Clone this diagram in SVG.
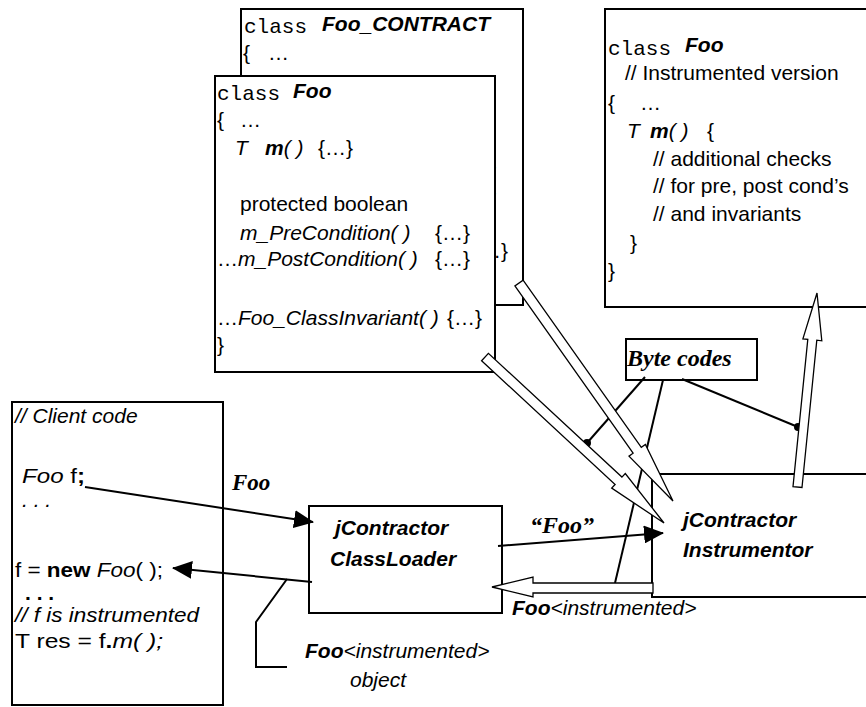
<svg xmlns="http://www.w3.org/2000/svg" width="866" height="707" viewBox="0 0 866 707">
<style>
.box{fill:#fff;stroke:#000;stroke-width:2}
.ln{fill:none;stroke:#000;stroke-width:2}
.ha{fill:#fff;stroke:#000;stroke-width:1.3;stroke-linejoin:miter}
text{font-family:"Liberation Sans",Arial,sans-serif;font-size:21px;fill:#000}
.i{font-style:italic}
.b{font-weight:bold}
.bi{font-weight:bold;font-style:italic}
.mono{font-family:"Liberation Mono","Courier New",monospace;font-size:21px}
.tm{font-family:"Liberation Serif","Times New Roman",serif;font-weight:bold;font-style:italic;font-size:24px}
</style>
<defs>
<marker id="ah" viewBox="0 0 20 18" refX="19" refY="9" markerWidth="20" markerHeight="18" orient="auto" markerUnits="userSpaceOnUse">
<path d="M0,0 L20,9 L0,18 Z" fill="#000"/>
</marker>
</defs>

<g id="foo-contract">
<rect class="box" x="241" y="9" width="282" height="296"/>
<text class="mono" x="244" y="33">class</text>
<text class="bi" x="322" y="31">Foo_CONTRACT</text>
<text x="243" y="60">{</text><text x="268" y="60">…</text>
<text x="461" y="173">{…}</text>
<text x="461" y="199">{…}</text>
<text x="473" y="258">{…}</text>
</g>

<g id="foo-class">
<rect class="box" x="215" y="76" width="280" height="296"/>
<text class="mono" x="217" y="100">class</text>
<text class="bi" x="293" y="98">Foo</text>
<text x="217" y="127">{</text><text x="240" y="127">…</text>
<text class="i" x="235" y="155">T</text>
<text x="265" y="155"><tspan class="bi">m</tspan><tspan class="i">( )</tspan></text>
<text x="318" y="155">{…}</text>
<text x="240" y="211">protected boolean</text>
<text class="i" x="240" y="240">m_PreCondition( )</text><text x="435" y="240">{…}</text>
<text x="217" y="266">…<tspan class="i">m_PostCondition( )</tspan></text><text x="435" y="266">{…}</text>
<text x="217" y="325">…<tspan class="i">Foo_ClassInvariant( )</tspan></text><text x="447" y="325">{…}</text>
<text x="217" y="352">}</text>
</g>

<g id="foo-instrumented">
<rect class="box" x="605" y="9" width="290" height="298"/>
<text class="mono" x="608" y="55">class</text>
<text class="bi" x="685" y="52">Foo</text>
<text x="625" y="80">// Instrumented version</text>
<text x="608" y="110">{</text><text x="640" y="110">…</text>
<text class="i" x="627" y="138">T</text>
<text x="650" y="138"><tspan class="bi">m</tspan><tspan class="i">( )</tspan></text>
<text x="707" y="138">{</text>
<text x="653" y="166">// additional checks</text>
<text x="653" y="193">// for pre, post cond’s</text>
<text x="653" y="221">// and invariants</text>
<text x="630" y="250">}</text>
<text x="608" y="278">}</text>
</g>

<g id="client-code">
<rect class="box" x="12" y="402" width="211" height="303"/>
<text class="i" x="15" y="423">// Client code</text>
<text x="22" y="483" textLength="63" lengthAdjust="spacingAndGlyphs"><tspan class="i">Foo</tspan> f<tspan class="b">;</tspan></text>
<text class="i" x="22" y="507">. . .</text>
<text x="15" y="577" textLength="148" lengthAdjust="spacingAndGlyphs">f = <tspan class="b">new</tspan> <tspan class="i">Foo</tspan>( );</text>
<text class="b" x="25" y="600">. . .</text>
<text class="i" x="15" y="622" textLength="184" lengthAdjust="spacingAndGlyphs">// f is instrumented</text>
<text x="15" y="648" textLength="148" lengthAdjust="spacingAndGlyphs">T res = f<tspan class="b">.</tspan><tspan class="i">m( );</tspan></text>
</g>

<g id="classloader">
<rect class="box" x="309" y="506" width="193" height="107"/>
<text class="bi" x="335" y="535">jContractor</text>
<text class="bi" x="330" y="566">ClassLoader</text>
</g>

<g id="instrumentor">
<rect class="box" x="652" y="474" width="240" height="123"/>
<text class="bi" x="683" y="527">jContractor</text>
<text class="bi" x="683" y="557">Instrumentor</text>
</g>

<g id="bytecodes">
<rect class="box" x="626" y="339" width="131" height="41"/>
<text class="tm" x="627" y="366">Byte codes</text>
</g>

<g id="labels">
<text class="tm" x="232" y="490" style="font-size:23px">Foo</text>
<text class="tm" x="530" y="533">“Foo”</text>
<text x="512" y="615"><tspan class="bi">Foo</tspan><tspan class="i">&lt;instrumented&gt;</tspan></text>
<text x="305" y="658"><tspan class="bi">Foo</tspan><tspan class="i">&lt;instrumented&gt;</tspan></text>
<text class="i" x="350" y="687">object</text>
</g>

<g id="connectors">
<line class="ln" x1="85" y1="487" x2="313" y2="522" marker-end="url(#ah)"/>
<line class="ln" x1="312" y1="582" x2="173" y2="568" marker-end="url(#ah)"/>
<polyline class="ln" points="287,579 256,622 256,667 287,667"/>
<line class="ln" x1="498" y1="546" x2="663" y2="533" marker-end="url(#ah)"/>
<line class="ln" x1="645" y1="377" x2="587" y2="443"/>
<circle cx="587" cy="443" r="4" fill="#000"/>
<line class="ln" x1="663" y1="380" x2="615" y2="583"/>
<line class="ln" x1="682" y1="379" x2="798" y2="427"/>
<circle cx="798" cy="427" r="4" fill="#000"/>
<polygon class="ha" points="514.9,285.9 633.1,453.2 629.0,456.1 673,501 645.4,444.5 641.3,447.4 523.1,280.1"/>
<polygon class="ha" points="481.6,360.7 615.1,484.5 611.7,488.1 664,523 625.3,473.5 621.9,477.1 488.4,353.3"/>
<polygon class="ha" points="802.0,487.5 816.8,340.2 821.8,340.8 817,293 802.9,338.9 807.8,339.4 793.0,486.6"/>
<polygon class="ha" points="653,583 533,583 533,577 492,587 533,597 533,593 653,593"/>
</g>
</svg>
